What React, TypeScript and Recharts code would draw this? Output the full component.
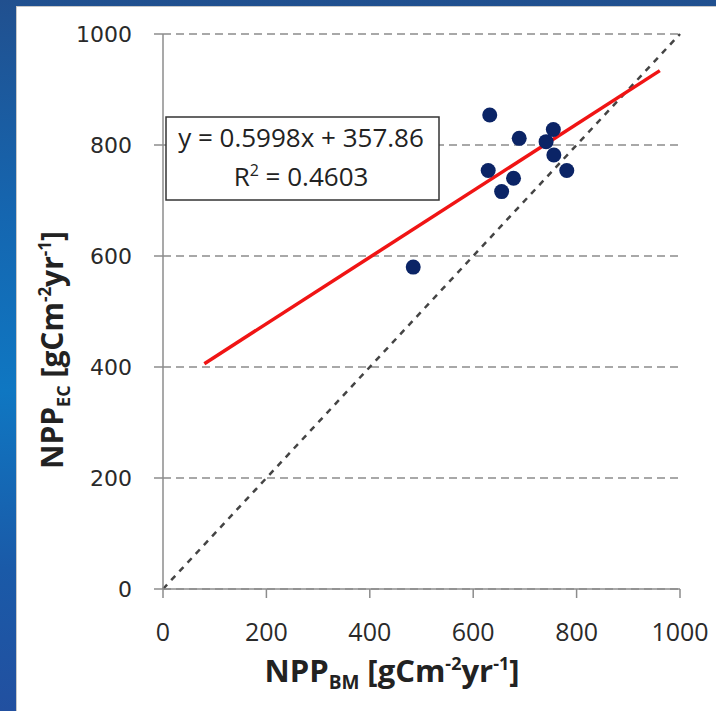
import React from 'react';
import { ScatterChart, Scatter, XAxis, YAxis, CartesianGrid, ReferenceLine } from 'recharts';

// NPP from biomass (x) vs NPP from eddy covariance (y), gC m-2 yr-1
const nppBM = [632, 689, 755, 741, 756, 781, 629, 678, 655, 484];
const nppEC = [854, 812, 828, 806, 782, 754, 754, 740, 716, 580];

// fitted trend y = 0.5998x + 357.86, drawn between these end points
const trendX = [80, 961];
const trendY = [406, 934];

const axisTicks = [0, 200, 400, 600, 800, 1000];
const equationText = 'y = 0.5998x + 357.86';
const r2Text = '0.4603';

const points = nppBM.map((x, i) => ({ x, y: nppEC[i] }));

const Dot = (props: any) => <circle cx={props.cx} cy={props.cy} r={7.5} fill="#0b2466" />;

const App = () => {
    return (
        <div
            style={{
                position: 'absolute',
                left: 0,
                top: 0,
                width: 716,
                height: 711,
                overflow: 'hidden',
                background: 'linear-gradient(180deg, #21508f 0%, #1566b0 30%, #0f77c2 55%, #1a5aa8 80%, #2250a0 100%)',
            }}>
            <div
                style={{
                    position: 'absolute',
                    left: 16,
                    top: 6,
                    width: 720,
                    height: 720,
                    background: '#fff',
                    border: '1px solid #c8c8c8',
                }}
            />
            <div style={{ position: 'absolute', left: 0, top: 0 }}>
                <ScatterChart width={716} height={711} margin={{ top: 34, right: 36, bottom: 62, left: 0 }}>
                    <CartesianGrid vertical={false} stroke="#8c8c8c" strokeWidth={1.5} strokeDasharray="8 5" />
                    <XAxis
                        type="number"
                        dataKey="x"
                        domain={[0, 1000]}
                        ticks={axisTicks}
                        height={60}
                        stroke="#8c8c8c"
                        strokeWidth={1.5}
                        tickSize={9}
                        tickMargin={25}
                        tick={{ fill: '#2a2a2a', fontSize: 25, fontFamily: 'Open Sans' }}
                    />
                    <YAxis
                        type="number"
                        dataKey="y"
                        domain={[0, 1000]}
                        ticks={axisTicks}
                        width={163}
                        stroke="#8c8c8c"
                        strokeWidth={1.5}
                        tickSize={9}
                        tickMargin={22}
                        tick={{ fill: '#2a2a2a', fontSize: 22, fontFamily: 'DejaVu Sans' }}
                    />
                    <ReferenceLine
                        segment={[{ x: 0, y: 0 }, { x: 1000, y: 1000 }]}
                        stroke="#444"
                        strokeWidth={2.5}
                        strokeDasharray="6 6"
                    />
                    <ReferenceLine
                        segment={[{ x: trendX[0], y: trendY[0] }, { x: trendX[1], y: trendY[1] }]}
                        stroke="#f01414"
                        strokeWidth={3.5}
                    />
                    <Scatter data={points} shape={Dot} isAnimationActive={false} />
                </ScatterChart>
            </div>
            <svg width={716} height={711} style={{ position: 'absolute', left: 0, top: 0, pointerEvents: 'none' }}>
                <rect x={166} y={117} width={273} height={83} fill="#fff" stroke="#333" strokeWidth={1.5} />
                <text x={301} y={147} textAnchor="middle" fontFamily="Open Sans" fontSize={26} fill="#222">
                    {equationText}
                </text>
                <text x={301} y={186} textAnchor="middle" fontFamily="Open Sans" fontSize={26} fill="#222">
                    R<tspan dy={-10} fontSize={16}>2</tspan>
                    <tspan dy={10}> = {r2Text}</tspan>
                </text>
                <text x={392} y={682} textAnchor="middle" fontFamily="Open Sans" fontWeight="bold" fontSize={31} fill="#222">
                    NPP<tspan dy={7} fontSize={19}>BM</tspan>
                    <tspan dy={-7}> [gCm</tspan>
                    <tspan dy={-12} fontSize={18}>-2</tspan>
                    <tspan dy={12}>yr</tspan>
                    <tspan dy={-12} fontSize={18}>-1</tspan>
                    <tspan dy={12}>]</tspan>
                </text>
                <text
                    x={0}
                    y={0}
                    transform="translate(63, 350) rotate(-90)"
                    textAnchor="middle"
                    fontFamily="Open Sans"
                    fontWeight="bold"
                    fontSize={30}
                    fill="#222">
                    NPP<tspan dy={7} fontSize={18}>EC</tspan>
                    <tspan dy={-7}> [gCm</tspan>
                    <tspan dy={-12} fontSize={17}>-2</tspan>
                    <tspan dy={12}>yr</tspan>
                    <tspan dy={-12} fontSize={17}>-1</tspan>
                    <tspan dy={12}>]</tspan>
                </text>
            </svg>
        </div>
    );
};

export default App;
